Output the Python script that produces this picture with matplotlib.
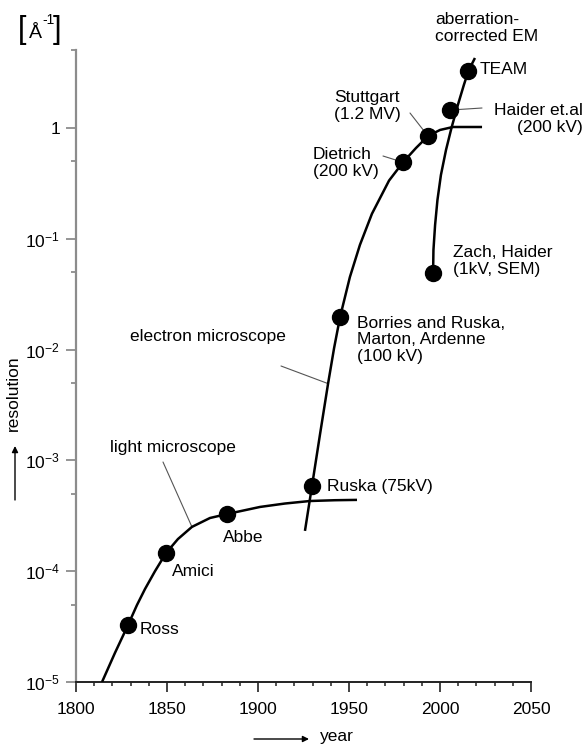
import matplotlib
matplotlib.use("Agg")
import matplotlib.pyplot as plt
from matplotlib.ticker import FixedLocator, NullFormatter, FixedFormatter

plt.rcParams['font.family'] = ['Liberation Sans', 'DejaVu Sans']
plt.rcParams['mathtext.fontset'] = 'custom'
plt.rcParams['mathtext.rm'] = 'Liberation Sans'
plt.rcParams['mathtext.it'] = 'Liberation Sans'
plt.rcParams['mathtext.default'] = 'regular'

# ---------------- data ----------------
light_years = [1814.3, 1821.4, 1828.6, 1833.5, 1837.9, 1843.4, 1849.5, 1856.0,
               1863.7, 1873.6, 1883.0, 1901.1, 1914.8, 1928.6, 1942.3, 1954.4]
light_res = [1.0e-5, 1.83e-5, 3.27e-5, 4.95e-5, 6.9e-5, 1.0e-4, 1.46e-4, 1.95e-4,
             2.51e-4, 3.02e-4, 3.28e-4, 3.8e-4, 4.08e-4, 4.3e-4, 4.37e-4, 4.4e-4]

em_years = [1925.8, 1929.7, 1934.1, 1938.5, 1941.8, 1945.1, 1950.5, 1956.0,
            1962.6, 1972.0, 1979.7, 1986.8, 1993.4, 2000.0, 2007.1, 2023.1]
em_res = [2.31e-4, 5.93e-4, 1.73e-3, 4.93e-3, 1.03e-2, 1.97e-2, 4.52e-2, 8.8e-2,
          0.168, 0.335, 0.49, 0.659, 0.845, 0.959, 1.02, 1.02]

ac_years = [1996.2, 1996.4, 1997.3, 1998.6, 2000.5, 2003.3, 2006.3, 2009.8,
            2013.1, 2015.6, 2019.2]
ac_res = [0.0491, 0.0792, 0.133, 0.224, 0.376, 0.633, 1.0, 1.61, 2.44, 3.27, 4.28]

milestone_names = ["Ross", "Amici", "Abbe", "Ruska (75kV)",
                   "Borries and Ruska,\nMarton, Ardenne\n(100 kV)",
                   "Dietrich\n(200 kV)", "Stuttgart\n(1.2 MV)",
                   "Haider et.al\n(200 kV)", "TEAM", "Zach, Haider\n(1kV, SEM)"]
milestone_years = [1828.6, 1849.5, 1883.0, 1929.7, 1945.1, 1979.7, 1993.4,
                   2005.5, 2015.6, 1996.2]
milestone_res = [3.27e-5, 1.46e-4, 3.28e-4, 5.93e-4, 0.0197, 0.49, 0.845,
                 1.45, 3.27, 0.0491]

x_major = [1800, 1850, 1900, 1950, 2000, 2050]
y_major = [1e-5, 1e-4, 1e-3, 1e-2, 1e-1, 1]
y_major_labels = ["$10^{-5}$", "$10^{-4}$", "$10^{-3}$", "$10^{-2}$", "$10^{-1}$", "1"]
y_minor = [5e-5, 5e-4, 5e-3, 5e-2, 5e-1, 5]

# ---------------- figure ----------------
W, H = 584, 745
FS = 12.5
fig = plt.figure(figsize=(W / 100, H / 100), dpi=100)
ax = fig.add_axes([76 / W, 1 - 682 / H, 455 / W, (682 - 50.5) / H])


def fp(x, y):
    return (x / W, 1 - y / H)


ax.set_yscale('log')
ax.set_xlim(1800, 2050)
ax.set_ylim(1e-5, 5)

for s in ['top', 'right']:
    ax.spines[s].set_visible(False)
ax.spines['left'].set_color('#8c8c8c')
ax.spines['left'].set_linewidth(1.6)
ax.spines['bottom'].set_color('#222222')
ax.spines['bottom'].set_linewidth(1.4)

ax.xaxis.set_major_locator(FixedLocator(x_major))
ax.xaxis.set_minor_locator(FixedLocator(list(range(1800, 2051, 10))))
ax.yaxis.set_major_locator(FixedLocator(y_major))
ax.yaxis.set_major_formatter(FixedFormatter(y_major_labels))
ax.yaxis.set_minor_locator(FixedLocator(y_minor))
ax.yaxis.set_minor_formatter(NullFormatter())

ax.tick_params(axis='x', which='major', direction='out', length=7.5, width=1.2,
               color='#222222', labelsize=FS, pad=7)
ax.tick_params(axis='x', which='minor', direction='out', length=3, width=1.1,
               color='#222222')
ax.tick_params(axis='y', which='major', direction='out', length=7.5, width=1.3,
               color='#8c8c8c', labelsize=FS, pad=4)
ax.tick_params(axis='y', which='minor', direction='out', length=3.5, width=1.3,
               color='#8c8c8c')

# curves
lw = 1.8
for xs, ys in [(light_years, light_res), (em_years, em_res), (ac_years, ac_res)]:
    ax.plot(xs, ys, color='black', lw=lw, solid_capstyle='butt',
            solid_joinstyle='round', zorder=3)

# milestone dots
ax.plot(milestone_years, milestone_res, 'o', color='black', ms=11.5, zorder=4,
        clip_on=False)

# leader lines
lead = dict(arrowstyle='-', color='#555555', lw=0.8, shrinkA=0, shrinkB=0)
ax.annotate("", xy=(light_years[8], light_res[8]), xytext=fp(163, 462),
            textcoords='figure fraction', arrowprops=lead, zorder=2)
ax.annotate("", xy=(em_years[3], em_res[3]), xytext=fp(281, 366),
            textcoords='figure fraction', arrowprops=lead, zorder=2)
ax.annotate("", xy=(milestone_years[5], milestone_res[5]), xytext=fp(383, 156),
            textcoords='figure fraction', arrowprops=lead, zorder=2)
ax.annotate("", xy=(milestone_years[6], milestone_res[6]), xytext=fp(410, 113),
            textcoords='figure fraction', arrowprops=lead, zorder=2)
ax.annotate("", xy=(milestone_years[7], milestone_res[7]), xytext=fp(482, 108),
            textcoords='figure fraction', arrowprops=lead, zorder=2)

# labels
def lab(x, y, s, ha='left', **kw):
    fig.text(*fp(x, y), s, ha=ha, va='center', fontsize=FS, linespacing=1.15, **kw)

lab(140, 629, milestone_names[0])
lab(172, 572, milestone_names[1])
lab(223, 537, milestone_names[2])
lab(327, 486, milestone_names[3])
lab(357, 340, milestone_names[4])
lab(313, 163, milestone_names[5])
lab(334, 106, milestone_names[6])
lab(583, 119, milestone_names[7], ha='right', multialignment='right')
lab(480, 70, milestone_names[8])
lab(453, 261, milestone_names[9])
lab(435, 28, "aberration-\ncorrected EM")
lab(110, 448, "light microscope")
lab(130, 336, "electron microscope")

# unit label [Å^-1]
fig.text(*fp(18, 30), "[", fontsize=22, ha='left', va='center')
fig.text(*fp(29, 34), "Å", fontsize=14, ha='left', va='center')
fig.text(*fp(42, 20), "-1", fontsize=10, ha='left', va='center')
fig.text(*fp(53, 30), "]", fontsize=22, ha='left', va='center')

# axis labels with arrows
fig.text(*fp(13, 393), "resolution", rotation=90, ha='center', va='center', fontsize=FS)
ax.annotate("", xy=fp(15, 446), xytext=fp(15, 500), xycoords='figure fraction',
            textcoords='figure fraction',
            arrowprops=dict(arrowstyle='-|>', color='black', lw=1.0,
                            mutation_scale=9, shrinkA=0, shrinkB=0))
fig.text(*fp(320, 737), "year", ha='left', va='center', fontsize=FS)
ax.annotate("", xy=fp(309, 739), xytext=fp(254, 739), xycoords='figure fraction',
            textcoords='figure fraction',
            arrowprops=dict(arrowstyle='-|>', color='black', lw=1.0,
                            mutation_scale=9, shrinkA=0, shrinkB=0))

fig.savefig("out.png", dpi=100)
